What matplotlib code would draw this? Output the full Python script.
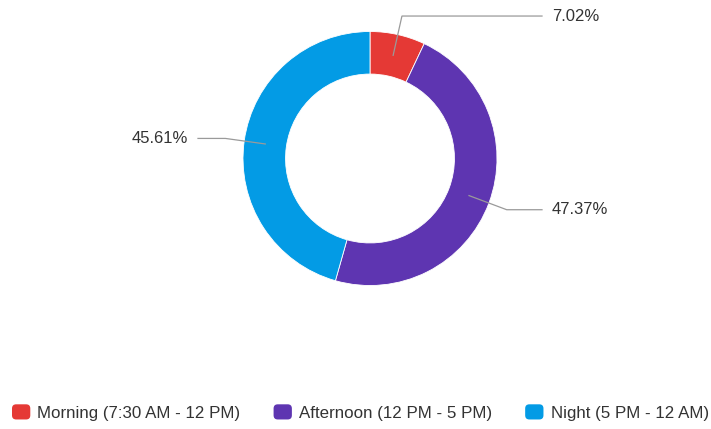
import numpy as np
import matplotlib
matplotlib.use("Agg")
import matplotlib.pyplot as plt
from matplotlib.patches import FancyBboxPatch, Wedge
from matplotlib.legend_handler import HandlerPatch

# Share of sessions by time of day
categories = ["Morning (7:30 AM - 12 PM)", "Afternoon (12 PM - 5 PM)", "Night (5 PM - 12 AM)"]
shares = [7.02, 47.37, 45.61]
colors = ["#E53935", "#5E35B1", "#039BE5"]

plt.rcParams["font.family"] = ["Liberation Sans", "DejaVu Sans"]

W, H = 711, 429
fig = plt.figure(figsize=(W / 100, H / 100), dpi=100)
ax = fig.add_axes([0, 0, 1, 1])

cx, cy = 370, H - 158.5
r_out = 127
ring = 0.335 * r_out

wedges, _ = ax.pie(shares, radius=r_out, center=(cx, cy), startangle=90,
                   counterclock=False, colors=colors,
                   wedgeprops=dict(width=ring, edgecolor="white", linewidth=0.6))

ax.set_xlim(0, W)
ax.set_ylim(0, H)
ax.set_aspect("equal")
ax.axis("off")

# Leader lines with elbow and horizontal tail
r_mid = r_out - ring / 2
r_elbow = 146
tail = 172
for w, v in zip(wedges, shares):
    a = np.deg2rad((w.theta1 + w.theta2) / 2)
    x0, y0 = cx + r_mid * np.cos(a), cy + r_mid * np.sin(a)
    x1, y1 = cx + r_elbow * np.cos(a), cy + r_elbow * np.sin(a)
    side = 1 if np.cos(a) >= 0 else -1
    x2 = cx + side * tail
    ax.plot([x0, x1, x2], [y0, y1, y1], color="#9a9a9a", lw=0.9,
            solid_joinstyle="miter", zorder=5)
    ax.text(x2 + side * 10, y1, f"{v:.2f}%", ha="left" if side > 0 else "right",
            va="center", fontsize=12, color="#333333")


class RoundedSquare(HandlerPatch):
    def create_artists(self, legend, orig_handle, xdescent, ydescent,
                       width, height, fontsize, trans):
        p = FancyBboxPatch((-xdescent + 1.5, -ydescent + 1.5), width - 3, height - 3,
                           boxstyle="round,pad=1.5,rounding_size=3",
                           facecolor=orig_handle.get_facecolor(), edgecolor="none",
                           transform=trans)
        return [p]


leg = ax.legend(wedges, categories, loc="center left", ncol=3,
                bbox_to_anchor=(12, H - 412.5), bbox_transform=ax.transData,
                frameon=False, borderpad=0, borderaxespad=0, fontsize=12.2,
                handlelength=1.08, handleheight=1.0, handletextpad=0.42,
                columnspacing=1.95,
                handler_map={Wedge: RoundedSquare()})
for t in leg.get_texts():
    t.set_color("#333333")

fig.savefig("out.png", dpi=100)
